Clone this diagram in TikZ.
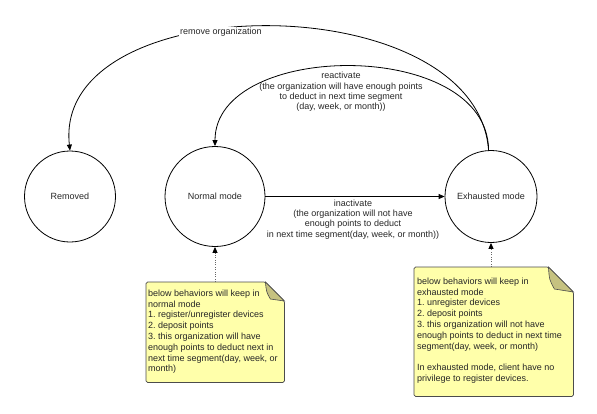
\documentclass[tikz,border=0pt]{standalone}
\usepackage{fontspec}
\setmainfont{Liberation Sans}
\usetikzlibrary{arrows.meta,calc}
\definecolor{notey}{RGB}{255,255,170}
\definecolor{notefold}{RGB}{198,194,128}
\frenchspacing
\begin{document}
\begin{tikzpicture}[x=1pt,y=-1pt,
  state/.style={circle,draw=black,line width=0.8pt,inner sep=0pt,text=black!85,font=\fontsize{9}{10.8}\selectfont},
  lbl/.style={font=\fontsize{9}{10.3}\selectfont,align=center,text=black!85,inner sep=1pt},
  conn/.style={line width=0.8pt,-{Triangle[length=6pt,width=5pt]}},
  dotconn/.style={draw=black!60,line width=0.8pt,dash pattern=on 0.8pt off 1.6pt,-{Triangle[length=6pt,width=5pt,color=black]}},
  notebg/.style={fill=notey,draw=black!70,line width=0.7pt,rounded corners=1.5pt},
  notefoldst/.style={fill=notefold,draw=black!70,line width=0.6pt},
  notearea/.style={inner sep=0pt,anchor=north west},
  notetext/.style={font=\fontsize{9}{10.8}\selectfont,align=left,text=black!85,inner sep=0pt,anchor=north west}]
\useasboundingbox (0,0) rectangle (597,413);

% states
\node[state,minimum size=91pt] (rm) at (70,196.5) {Removed};
\node[state,minimum size=100pt] (nm) at (215,196.5) {Normal mode};
\node[state,minimum size=92pt] (ex) at (491,196.5) {Exhausted mode};

% connectors
\draw[conn] (nm) -- (ex);
\draw[conn] (ex.93) .. controls (476,-16) and (52,-14) .. (rm.north);
\draw[conn] (ex.93) .. controls (488,38) and (215,40) .. (nm.north);

% labels
\node[lbl,fill=white] (lrm) at (221,32) {remove organization};
\node[lbl] (lre) at (341,92) {reactivate\\(the organization will have enough points\\to deduct in next time segment\\(day, week, or month))};
\node[lbl] (lin) at (353,219.5) {inactivate\\(the organization will not have\\enough points to deduct\\in next time segment(day, week, or month))};

% note 1
\node[notearea,minimum width=138pt,minimum height=100pt] (n1) at (146,282) {};
\draw[notebg] (n1.north west) -- ($(n1.north east)+(-19,0)$) -- ($(n1.north east)+(0,19)$) -- (n1.south east) -- (n1.south west) -- cycle;
\draw[notefoldst] ($(n1.north east)+(-19,0)$) .. controls ($(n1.north east)+(-18,10)$) .. ($(n1.north east)+(-14,17)$) -- ($(n1.north east)+(0,19)$) -- cycle;
\node[notetext] (t1) at (148,289.5) {below behaviors will keep in\\normal mode\\1. register/unregister devices\\2. deposit points\\3. this organization will have\\enough points to deduct next in\\next time segment(day, week, or\\month)};
\draw[dotconn] (nm.south |- n1.north) -- (nm.south);

% note 2
\node[notearea,minimum width=159pt,minimum height=129pt] (n2) at (414,267) {};
\draw[notebg] (n2.north west) -- ($(n2.north east)+(-25,0)$) -- ($(n2.north east)+(0,25)$) -- (n2.south east) -- (n2.south west) -- cycle;
\draw[notefoldst] ($(n2.north east)+(-25,0)$) .. controls ($(n2.north east)+(-24,13)$) .. ($(n2.north east)+(-19,22)$) -- ($(n2.north east)+(0,25)$) -- cycle;
\node[notetext] (t2) at (417,277.5) {below behaviors will keep in\\exhausted mode\\1. unregister devices\\2. deposit points\\3. this organization will not have\\enough points to deduct in next time\\segment(day, week, or month)\\[10.8pt]In exhausted mode, client have no\\privilege to register devices.};
\draw[dotconn] (ex.south |- n2.north) -- (ex.south);
\end{tikzpicture}
\end{document}
